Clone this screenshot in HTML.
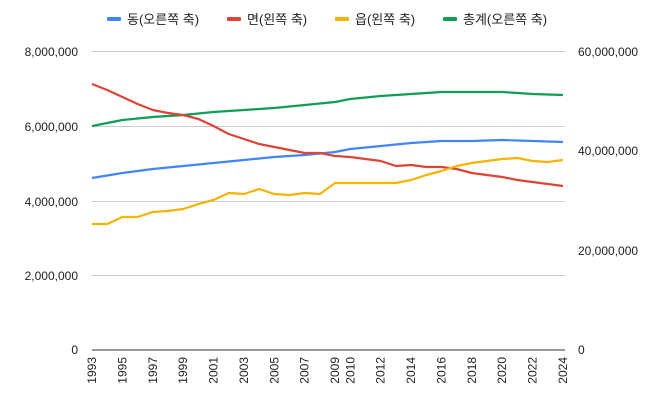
<!DOCTYPE html>
<html><head><meta charset="utf-8"><style>
body{margin:0;background:#fff;}
svg{display:block;font-family:"Liberation Sans","Noto Sans CJK KR",sans-serif;}
</style></head><body>
<svg width="658" height="400" viewBox="0 0 658 400">
<g stroke="#ccc" stroke-width="1">
<line x1="92" x2="565" y1="51.5" y2="51.5"/>
<line x1="92" x2="565" y1="126.5" y2="126.5"/>
<line x1="92" x2="565" y1="201.5" y2="201.5"/>
<line x1="92" x2="565" y1="275.5" y2="275.5"/>
</g>
<line x1="92" x2="565" y1="350" y2="350" stroke="#333" stroke-width="1"/>
<g font-size="12" fill="#222" text-anchor="end">
<text x="78" y="56">8,000,000</text>
<text x="78" y="131">6,000,000</text>
<text x="78" y="206">4,000,000</text>
<text x="78" y="280">2,000,000</text>
<text x="78" y="354">0</text>
</g>
<g font-size="12" fill="#222">
<text x="578" y="56">60,000,000</text>
<text x="578" y="155">40,000,000</text>
<text x="578" y="255">20,000,000</text>
<text x="578" y="354">0</text>
</g>
<g font-size="12" fill="#222" text-anchor="end" id="xl"></g>
<g id="lines" fill="none" stroke-width="2.2" stroke-linejoin="round"></g>
<g font-size="13" fill="#222">
<rect x="107" y="17" width="14" height="4" rx="1" fill="#4285f4"/><text x="127" y="24">동(오른쪽 축)</text>
<rect x="227" y="17" width="14" height="4" rx="1" fill="#db4437"/><text x="247" y="24">면(왼쪽 축)</text>
<rect x="335" y="17" width="14" height="4" rx="1" fill="#f4b400"/><text x="355" y="24">읍(왼쪽 축)</text>
<rect x="443" y="17" width="14" height="4" rx="1" fill="#0f9d58"/><text x="463" y="24">총계(오른쪽 축)</text>
</g>
</svg>
<script>
var x0=92,dx=471/31,ns="http://www.w3.org/2000/svg";
function interp(pts){var o=[];for(var y=1993;y<=2024;y++){var v;for(var i=0;i<pts.length-1;i++){if(y>=pts[i][0]&&y<=pts[i+1][0]){var t=(y-pts[i][0])/(pts[i+1][0]-pts[i][0]);v=pts[i][1]+t*(pts[i+1][1]-pts[i][1]);}}o.push(v);}return o;}
var red=[84,90,97,104,110,113,115,119,126,134,139,144,147,150,153,153,156,157,159,161,166,165,167,167,169,173,175,177,180,182,184,186];
var yel=[224,224,217,217,212,211,209,204,200,193,194,189,194,195,193,194,183,183,183,183,183,180,175,171,166,163,161,159,158,161,162,160];
var blue=interp([[1993,178],[1995,173],[1997,169],[1999,166],[2001,163],[2003,160],[2005,157],[2007,155],[2009,152],[2010,149],[2012,146],[2014,143],[2016,141],[2018,141],[2020,140],[2022,141],[2024,142]]);
var green=interp([[1993,126],[1995,120],[1997,117],[1999,115],[2001,112],[2003,110],[2005,108],[2007,105],[2009,102],[2010,99],[2012,96],[2014,94],[2016,92],[2018,92],[2020,92],[2022,94],[2024,95]]);
var g=document.getElementById("lines");
[[green,"#0f9d58"],[blue,"#4285f4"],[red,"#db4437"],[yel,"#f4b400"]].forEach(function(s){var p=document.createElementNS(ns,"polyline");p.setAttribute("points",s[0].map(function(v,i){return (x0+i*dx).toFixed(1)+","+v}).join(" "));p.setAttribute("stroke",s[1]);g.appendChild(p);});
var xl=document.getElementById("xl");
var yrs=[1993,1995,1997,1999,2001,2003,2005,2007,2009,2010,2012,2014,2016,2018,2020,2022,2024];
yrs.forEach(function(y){var x=x0+(y-1993)*dx+4;var t=document.createElementNS(ns,"text");t.setAttribute("transform","translate("+x.toFixed(1)+",357) rotate(-90)");t.textContent=y;xl.appendChild(t);});
</script>
</body></html>
